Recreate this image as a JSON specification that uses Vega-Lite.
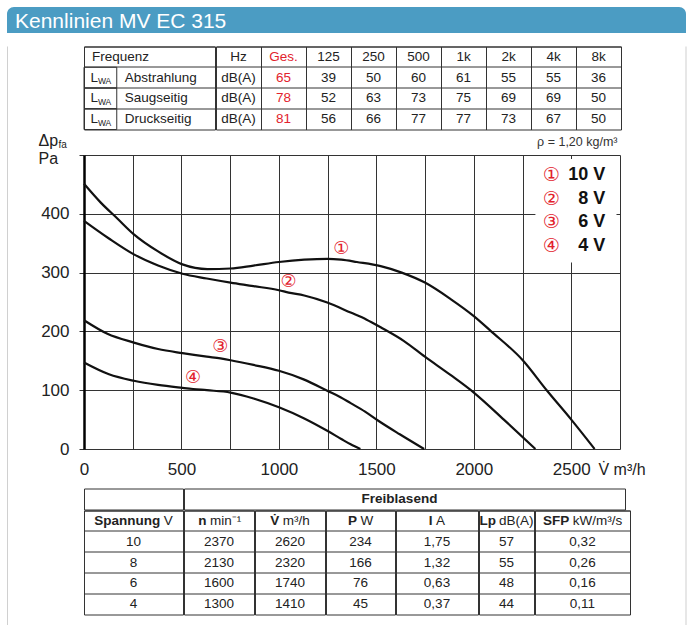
{
  "$schema": "https://vega.github.io/schema/vega-lite/v6.json",
  "background": "white",
  "padding": {"left": 7, "top": 7, "right": 0, "bottom": 0},
  "datasets": {
    "spektrum": [
      {"quelle": "Abstrahlung", "band": "Hz", "wert": "dB(A)"},
      {"quelle": "Abstrahlung", "band": "Ges.", "wert": "65"},
      {"quelle": "Abstrahlung", "band": "125", "wert": "39"},
      {"quelle": "Abstrahlung", "band": "250", "wert": "50"},
      {"quelle": "Abstrahlung", "band": "500", "wert": "60"},
      {"quelle": "Abstrahlung", "band": "1k", "wert": "61"},
      {"quelle": "Abstrahlung", "band": "2k", "wert": "55"},
      {"quelle": "Abstrahlung", "band": "4k", "wert": "55"},
      {"quelle": "Abstrahlung", "band": "8k", "wert": "36"},
      {"quelle": "Saugseitig", "band": "Hz", "wert": "dB(A)"},
      {"quelle": "Saugseitig", "band": "Ges.", "wert": "78"},
      {"quelle": "Saugseitig", "band": "125", "wert": "52"},
      {"quelle": "Saugseitig", "band": "250", "wert": "63"},
      {"quelle": "Saugseitig", "band": "500", "wert": "73"},
      {"quelle": "Saugseitig", "band": "1k", "wert": "75"},
      {"quelle": "Saugseitig", "band": "2k", "wert": "69"},
      {"quelle": "Saugseitig", "band": "4k", "wert": "69"},
      {"quelle": "Saugseitig", "band": "8k", "wert": "50"},
      {"quelle": "Druckseitig", "band": "Hz", "wert": "dB(A)"},
      {"quelle": "Druckseitig", "band": "Ges.", "wert": "81"},
      {"quelle": "Druckseitig", "band": "125", "wert": "56"},
      {"quelle": "Druckseitig", "band": "250", "wert": "66"},
      {"quelle": "Druckseitig", "band": "500", "wert": "77"},
      {"quelle": "Druckseitig", "band": "1k", "wert": "77"},
      {"quelle": "Druckseitig", "band": "2k", "wert": "73"},
      {"quelle": "Druckseitig", "band": "4k", "wert": "67"},
      {"quelle": "Druckseitig", "band": "8k", "wert": "50"}
    ],
    "kennlinien": [
      {"stufe": "10 V", "q": 0, "dp": 451},
      {"stufe": "10 V", "q": 86, "dp": 419},
      {"stufe": "10 V", "q": 171, "dp": 392},
      {"stufe": "10 V", "q": 256, "dp": 365},
      {"stufe": "10 V", "q": 380, "dp": 336},
      {"stufe": "10 V", "q": 505, "dp": 314},
      {"stufe": "10 V", "q": 633, "dp": 306},
      {"stufe": "10 V", "q": 752, "dp": 307},
      {"stufe": "10 V", "q": 870, "dp": 312},
      {"stufe": "10 V", "q": 1000, "dp": 318},
      {"stufe": "10 V", "q": 1130, "dp": 322},
      {"stufe": "10 V", "q": 1250, "dp": 323.5},
      {"stufe": "10 V", "q": 1320, "dp": 322, "marke": "①"},
      {"stufe": "10 V", "q": 1400, "dp": 318},
      {"stufe": "10 V", "q": 1522, "dp": 311},
      {"stufe": "10 V", "q": 1630, "dp": 300},
      {"stufe": "10 V", "q": 1749, "dp": 283},
      {"stufe": "10 V", "q": 1881, "dp": 255},
      {"stufe": "10 V", "q": 2000, "dp": 226},
      {"stufe": "10 V", "q": 2086, "dp": 201},
      {"stufe": "10 V", "q": 2251, "dp": 151},
      {"stufe": "10 V", "q": 2376, "dp": 99},
      {"stufe": "10 V", "q": 2500, "dp": 50},
      {"stufe": "10 V", "q": 2620, "dp": 0},
      {"stufe": "8 V", "q": 0, "dp": 388},
      {"stufe": "8 V", "q": 128, "dp": 358},
      {"stufe": "8 V", "q": 256, "dp": 331},
      {"stufe": "8 V", "q": 380, "dp": 312},
      {"stufe": "8 V", "q": 505, "dp": 298},
      {"stufe": "8 V", "q": 630, "dp": 290},
      {"stufe": "8 V", "q": 752, "dp": 283},
      {"stufe": "8 V", "q": 870, "dp": 277},
      {"stufe": "8 V", "q": 1000, "dp": 270},
      {"stufe": "8 V", "q": 1050, "dp": 266, "marke": "②"},
      {"stufe": "8 V", "q": 1130, "dp": 261},
      {"stufe": "8 V", "q": 1248, "dp": 249},
      {"stufe": "8 V", "q": 1368, "dp": 232},
      {"stufe": "8 V", "q": 1450, "dp": 220},
      {"stufe": "8 V", "q": 1522, "dp": 207},
      {"stufe": "8 V", "q": 1640, "dp": 184},
      {"stufe": "8 V", "q": 1749, "dp": 157},
      {"stufe": "8 V", "q": 1880, "dp": 126},
      {"stufe": "8 V", "q": 2000, "dp": 96},
      {"stufe": "8 V", "q": 2154, "dp": 50},
      {"stufe": "8 V", "q": 2316, "dp": 0},
      {"stufe": "6 V", "q": 0, "dp": 219},
      {"stufe": "6 V", "q": 120, "dp": 196},
      {"stufe": "6 V", "q": 256, "dp": 181},
      {"stufe": "6 V", "q": 380, "dp": 170},
      {"stufe": "6 V", "q": 505, "dp": 163},
      {"stufe": "6 V", "q": 630, "dp": 157},
      {"stufe": "6 V", "q": 700, "dp": 154, "marke": "③"},
      {"stufe": "6 V", "q": 752, "dp": 151},
      {"stufe": "6 V", "q": 870, "dp": 143},
      {"stufe": "6 V", "q": 1000, "dp": 133},
      {"stufe": "6 V", "q": 1130, "dp": 118},
      {"stufe": "6 V", "q": 1248, "dp": 99},
      {"stufe": "6 V", "q": 1316, "dp": 88},
      {"stufe": "6 V", "q": 1368, "dp": 78},
      {"stufe": "6 V", "q": 1440, "dp": 64},
      {"stufe": "6 V", "q": 1510, "dp": 48},
      {"stufe": "6 V", "q": 1620, "dp": 25},
      {"stufe": "6 V", "q": 1745, "dp": 0},
      {"stufe": "4 V", "q": 0, "dp": 147},
      {"stufe": "4 V", "q": 128, "dp": 127},
      {"stufe": "4 V", "q": 256, "dp": 116},
      {"stufe": "4 V", "q": 380, "dp": 109},
      {"stufe": "4 V", "q": 505, "dp": 104},
      {"stufe": "4 V", "q": 560, "dp": 102, "marke": "④"},
      {"stufe": "4 V", "q": 630, "dp": 100},
      {"stufe": "4 V", "q": 752, "dp": 96},
      {"stufe": "4 V", "q": 870, "dp": 86},
      {"stufe": "4 V", "q": 1000, "dp": 71},
      {"stufe": "4 V", "q": 1130, "dp": 52},
      {"stufe": "4 V", "q": 1248, "dp": 31},
      {"stufe": "4 V", "q": 1320, "dp": 17},
      {"stufe": "4 V", "q": 1368, "dp": 8},
      {"stufe": "4 V", "q": 1418, "dp": 0}
    ],
    "stufen": [
      {"nr": "①", "stufe": "10 V"},
      {"nr": "②", "stufe": "8 V"},
      {"nr": "③", "stufe": "6 V"},
      {"nr": "④", "stufe": "4 V"}
    ],
    "betrieb": [
      {"U": "10", "n": "2370", "V": "2620", "P": "234", "I": "1,75", "Lp": "57", "SFP": "0,32"},
      {"U": "8", "n": "2130", "V": "2320", "P": "166", "I": "1,32", "Lp": "55", "SFP": "0,26"},
      {"U": "6", "n": "1600", "V": "1740", "P": "76", "I": "0,63", "Lp": "48", "SFP": "0,16"},
      {"U": "4", "n": "1300", "V": "1410", "P": "45", "I": "0,37", "Lp": "44", "SFP": "0,11"}
    ]
  },
  "spacing": 12.5,
  "vconcat": [
    {
      "width": 679,
      "height": 26,
      "data": {"values": [{}]},
      "view": {"stroke": null},
      "layer": [
        {"mark": {"type": "rect", "color": "#4b9cc3", "cornerRadiusTopLeft": 7, "cornerRadiusTopRight": 7}, "encoding": {}},
        {"mark": {"type": "text", "align": "left", "baseline": "alphabetic", "dx": -331.5, "dy": 8.3, "color": "white", "font": "Liberation Sans", "fontSize": 21},
         "encoding": {"text": {"value": "Kennlinien MV EC 315"}}}
      ]
    },
    {
      "spacing": 39.5,
      "hconcat": [
        {
          "spacing": -1,
          "hconcat": [
            {"width": 1, "height": 580, "data": {"values": [{}]}, "view": {"stroke": null},
             "mark": {"type": "rect", "color": "#d0d0d0"}, "encoding": {}},
            {
              "spacing": -0.5,
              "vconcat": [
                {
                  "spacing": -1,
                  "hconcat": [
                    {
                      "width": 131,
                      "height": 83,
                      "data": {"name": "spektrum"},
                      "transform": [{"filter": "datum.band === 'Hz'"}],
                      "encoding": {
                        "y": {"field": "quelle", "type": "nominal", "scale": {"type": "band", "domain": ["Frequenz", "Abstrahlung", "Saugseitig", "Druckseitig"], "paddingInner": 0, "paddingOuter": 0}, "axis": {"labels": false, "ticks": false, "domain": false, "title": null, "grid": true, "gridColor": "#333", "gridOpacity": 1, "bandPosition": 0}}
                      },
                      "layer": [
                        {"mark": {"type": "rect", "filled": false, "color": "#333", "strokeWidth": 1},
                         "encoding": {"x": {"datum": "LWA", "type": "nominal", "scale": {"type": "band", "domain": ["LWA", "q1", "q2", "q3"], "paddingInner": 0, "paddingOuter": 0}, "axis": null}}},
                        {"mark": {"type": "text", "align": "left", "dx": -10, "fontSize": 13.5},
                         "encoding": {"x": {"datum": "LWA", "type": "nominal"}, "text": {"value": "L"}}},
                        {"mark": {"type": "text", "align": "left", "dx": -2.5, "dy": 3.5, "fontSize": 8.5},
                         "encoding": {"x": {"datum": "LWA", "type": "nominal"}, "text": {"value": "WA"}}},
                        {"mark": {"type": "text", "align": "left", "dx": 8},
                         "encoding": {"x": {"datum": "q1", "type": "nominal", "bandPosition": 0}, "text": {"field": "quelle"}}},
                        {"transform": [{"filter": "datum.quelle === 'Abstrahlung'"}],
                         "mark": {"type": "text", "align": "left", "dx": 8},
                         "encoding": {"x": {"datum": "LWA", "type": "nominal", "bandPosition": 0}, "y": {"datum": "Frequenz", "type": "nominal"}, "text": {"value": "Frequenz"}}}
                      ]
                    },
                    {
                      "width": 405,
                      "height": 83,
                      "data": {"name": "spektrum"},
                      "encoding": {
                        "x": {"field": "band", "type": "nominal", "scale": {"type": "band", "domain": ["Hz", "Ges.", "125", "250", "500", "1k", "2k", "4k", "8k"], "paddingInner": 0, "paddingOuter": 0}, "axis": {"labels": false, "ticks": false, "domain": false, "title": null, "grid": true, "gridColor": "#333", "gridOpacity": 1, "bandPosition": 0}},
                        "y": {"field": "quelle", "type": "nominal", "scale": {"type": "band", "domain": ["Frequenz", "Abstrahlung", "Saugseitig", "Druckseitig"], "paddingInner": 0, "paddingOuter": 0}, "axis": {"labels": false, "ticks": false, "domain": false, "title": null, "grid": true, "gridColor": "#333", "gridOpacity": 1, "bandPosition": 0}},
                        "color": {"condition": {"test": "datum.band === 'Ges.'", "value": "#e2222d"}, "value": "#222"}
                      },
                      "layer": [
                        {"mark": {"type": "text"}, "encoding": {"text": {"field": "wert"}}},
                        {"transform": [{"filter": "datum.quelle === 'Abstrahlung'"}],
                         "mark": {"type": "text"},
                         "encoding": {"y": {"datum": "Frequenz", "type": "nominal"}, "text": {"field": "band"}}}
                      ]
                    }
                  ]
                },
                {
                  "width": 536,
                  "height": 294,
                  "view": {"stroke": null},
                  "layer": [
                    {
                      "layer": [
                        {
                          "data": {"name": "kennlinien"},
                          "mark": {"type": "line", "color": "#111", "strokeWidth": 2.2, "interpolate": "monotone"},
                          "encoding": {
                            "x": {"field": "q", "type": "quantitative", "scale": {"domain": [0, 2750], "nice": false},
                                  "axis": {"values": [0, 250, 500, 750, 1000, 1250, 1500, 1750, 2000, 2250, 2500, 2750], "labelExpr": "datum.value % 500 === 0 ? datum.label : ''", "format": "d", "grid": true, "gridColor": "#333", "gridOpacity": 1, "ticks": false, "domain": false, "labelFontSize": 17, "labelFont": "Liberation Sans", "labelColor": "#222", "labelPadding": 12, "labelFlush": false, "labelOverlap": false, "title": "V̇ m³/h", "titleX": 514, "titleY": 25, "titleAlign": "left", "titleBaseline": "alphabetic", "titleFontSize": 16, "titleFont": "Liberation Sans", "titleFontWeight": "normal", "titleColor": "#222"}},
                            "y": {"field": "dp", "type": "quantitative", "scale": {"domain": [0, 500], "nice": false},
                                  "axis": {"values": [0, 50, 100, 150, 200, 250, 300, 350, 400, 450, 500], "labelExpr": "datum.value % 100 === 0 && datum.value < 500 ? datum.label : ''", "grid": true, "gridColor": "#333", "gridOpacity": 1, "ticks": true, "tickSize": 5, "tickColor": "#333", "domain": true, "domainColor": "#000", "domainWidth": 2.5, "labelFontSize": 17, "labelFont": "Liberation Sans", "labelColor": "#222", "labelPadding": 10, "labelOverlap": false, "title": ["Δp", "Pa"], "titleAngle": 0, "titleAlign": "left", "titleBaseline": "alphabetic", "titleX": -46, "titleY": -10, "titleFontSize": 16, "titleFont": "Liberation Sans", "titleFontWeight": "normal", "titleColor": "#222", "titleLineHeight": 18.5}},
                            "detail": {"field": "stufe"}
                          }
                        },
                        {
                          "data": {"values": [{}]},
                          "mark": {"type": "rect", "color": "white"},
                          "encoding": {"x": {"datum": 2316, "type": "quantitative"}, "x2": {"datum": 2732}, "y": {"datum": 317, "type": "quantitative"}, "y2": {"datum": 493}}
                        },
                        {
                          "data": {"name": "kennlinien"},
                          "transform": [{"filter": "datum.marke"}],
                          "mark": {"type": "text", "color": "#e2222d", "font": "DejaVu Sans", "fontSize": 18, "dy": -11},
                          "encoding": {"x": {"field": "q", "type": "quantitative"}, "y": {"field": "dp", "type": "quantitative"}, "text": {"field": "marke"}}
                        },
                        {
                          "data": {"values": [{}]},
                          "mark": {"type": "text", "align": "left", "baseline": "alphabetic", "dx": -25.5, "dy": -7, "fontSize": 10, "font": "Liberation Sans", "color": "#222"},
                          "encoding": {"x": {"datum": 0, "type": "quantitative"}, "y": {"datum": 500, "type": "quantitative"}, "text": {"value": "fa"}}
                        },
                        {
                          "data": {"values": [{}]},
                          "mark": {"type": "text", "align": "right", "baseline": "alphabetic", "dx": -2.5, "dy": -9, "fontSize": 12.5, "font": "Liberation Sans", "color": "#333"},
                          "encoding": {"x": {"datum": 2750, "type": "quantitative"}, "y": {"datum": 500, "type": "quantitative"}, "text": {"value": "ρ = 1,20 kg/m³"}}
                        }
                      ]
                    },
                    {
                      "data": {"name": "stufen"},
                      "encoding": {
                        "y": {"field": "stufe", "type": "nominal", "scale": {"type": "band", "domain": ["10 V", "8 V", "6 V", "4 V"], "range": [8, 103], "paddingInner": 0, "paddingOuter": 0},
                              "axis": {"orient": "left", "labels": false, "ticks": false, "domain": false, "grid": false, "title": " ", "titleX": -76.3, "titleY": -25, "titleAngle": 0, "titleAlign": "left", "titleBaseline": "top", "titleFontSize": 10}}
                      },
                      "layer": [
                        {"mark": {"type": "text", "color": "#e2222d", "font": "DejaVu Sans", "fontSize": 19},
                         "encoding": {"x": {"datum": 2397, "type": "quantitative", "scale": {"domain": [0, 2750], "nice": false},
                                            "axis": {"orient": "bottom", "labels": false, "ticks": false, "domain": false, "grid": false, "title": " ", "titleX": 0, "titleY": 39, "titleAlign": "left", "titleBaseline": "bottom", "titleFontSize": 10}},
                                      "text": {"field": "nr"}}},
                        {"mark": {"type": "text", "align": "right", "font": "Liberation Sans", "fontWeight": "bold", "fontSize": 18, "color": "#111"},
                         "encoding": {"x": {"datum": 2675, "type": "quantitative"}, "text": {"field": "stufe"}}}
                      ]
                    }
                  ],
                  "resolve": {"scale": {"y": "independent", "x": "independent"}}
                },
                {
                  "spacing": -1,
                  "vconcat": [
                    {
                      "spacing": -1,
                      "hconcat": [
                        {"width": 99, "height": 21, "data": {"values": [{"zeile": "Kopf"}]},
                         "mark": {"type": "text"},
                         "encoding": {"y": {"field": "zeile", "type": "nominal", "axis": null}, "text": {"value": ""}}},
                        {"width": 441, "height": 21, "data": {"values": [{"zeile": "Kopf"}]},
                         "mark": {"type": "text", "fontWeight": "bold", "dx": -5},
                         "encoding": {"y": {"field": "zeile", "type": "nominal", "axis": null}, "text": {"value": "Freiblasend"}}}
                      ]
                    },
                    {
                      "spacing": -1,
                      "hconcat": [
                        {
                          "width": 99, "height": 104, "data": {"name": "betrieb"},
                          "encoding": {"y": {"field": "U", "type": "nominal", "scale": {"type": "band", "domain": ["kopf", "10", "8", "6", "4"], "paddingInner": 0, "paddingOuter": 0}, "axis": {"labels": false, "ticks": false, "domain": false, "title": null, "grid": true, "gridColor": "#333", "gridOpacity": 1, "bandPosition": 0}}},
                          "layer": [
                            {"mark": {"type": "text"}, "encoding": {"text": {"field": "U"}}},
                            {"transform": [{"filter": "datum.U === '10'"}], "mark": {"type": "text", "fontWeight": "bold", "align": "right", "dx": 26.7}, "encoding": {"y": {"datum": "kopf", "type": "nominal"}, "text": {"value": "Spannung"}}},
                            {"transform": [{"filter": "datum.U === '10'"}], "mark": {"type": "text", "align": "left", "dx": 30.2}, "encoding": {"y": {"datum": "kopf", "type": "nominal"}, "text": {"value": "V"}}}
                          ]
                        },
                        {
                          "width": 70, "height": 104, "data": {"name": "betrieb"},
                          "encoding": {"y": {"field": "U", "type": "nominal", "scale": {"type": "band", "domain": ["kopf", "10", "8", "6", "4"], "paddingInner": 0, "paddingOuter": 0}, "axis": {"labels": false, "ticks": false, "domain": false, "title": null, "grid": true, "gridColor": "#333", "gridOpacity": 1, "bandPosition": 0}}},
                          "layer": [
                            {"mark": {"type": "text"}, "encoding": {"text": {"field": "n"}}},
                            {"transform": [{"filter": "datum.U === '10'"}], "mark": {"type": "text", "fontWeight": "bold", "align": "right", "dx": -12.6}, "encoding": {"y": {"datum": "kopf", "type": "nominal"}, "text": {"value": "n"}}},
                            {"transform": [{"filter": "datum.U === '10'"}], "mark": {"type": "text", "align": "left", "dx": -9.1}, "encoding": {"y": {"datum": "kopf", "type": "nominal"}, "text": {"value": "min⁻¹"}}}
                          ]
                        },
                        {
                          "width": 70, "height": 104, "data": {"name": "betrieb"},
                          "encoding": {"y": {"field": "U", "type": "nominal", "scale": {"type": "band", "domain": ["kopf", "10", "8", "6", "4"], "paddingInner": 0, "paddingOuter": 0}, "axis": {"labels": false, "ticks": false, "domain": false, "title": null, "grid": true, "gridColor": "#333", "gridOpacity": 1, "bandPosition": 0}}},
                          "layer": [
                            {"mark": {"type": "text"}, "encoding": {"text": {"field": "V"}}},
                            {"transform": [{"filter": "datum.U === '10'"}], "mark": {"type": "text", "fontWeight": "bold", "align": "right", "dx": -10.7}, "encoding": {"y": {"datum": "kopf", "type": "nominal"}, "text": {"value": "V̇"}}},
                            {"transform": [{"filter": "datum.U === '10'"}], "mark": {"type": "text", "align": "left", "dx": -7.2}, "encoding": {"y": {"datum": "kopf", "type": "nominal"}, "text": {"value": "m³/h"}}}
                          ]
                        },
                        {
                          "width": 69, "height": 104, "data": {"name": "betrieb"},
                          "encoding": {"y": {"field": "U", "type": "nominal", "scale": {"type": "band", "domain": ["kopf", "10", "8", "6", "4"], "paddingInner": 0, "paddingOuter": 0}, "axis": {"labels": false, "ticks": false, "domain": false, "title": null, "grid": true, "gridColor": "#333", "gridOpacity": 1, "bandPosition": 0}}},
                          "layer": [
                            {"mark": {"type": "text"}, "encoding": {"text": {"field": "P"}}},
                            {"transform": [{"filter": "datum.U === '10'"}], "mark": {"type": "text", "fontWeight": "bold", "align": "right", "dx": -3.6}, "encoding": {"y": {"datum": "kopf", "type": "nominal"}, "text": {"value": "P"}}},
                            {"transform": [{"filter": "datum.U === '10'"}], "mark": {"type": "text", "align": "left", "dx": -0.1}, "encoding": {"y": {"datum": "kopf", "type": "nominal"}, "text": {"value": "W"}}}
                          ]
                        },
                        {
                          "width": 82, "height": 104, "data": {"name": "betrieb"},
                          "encoding": {"y": {"field": "U", "type": "nominal", "scale": {"type": "band", "domain": ["kopf", "10", "8", "6", "4"], "paddingInner": 0, "paddingOuter": 0}, "axis": {"labels": false, "ticks": false, "domain": false, "title": null, "grid": true, "gridColor": "#333", "gridOpacity": 1, "bandPosition": 0}}},
                          "layer": [
                            {"mark": {"type": "text"}, "encoding": {"text": {"field": "I"}}},
                            {"transform": [{"filter": "datum.U === '10'"}], "mark": {"type": "text", "fontWeight": "bold", "align": "right", "dx": -4.4}, "encoding": {"y": {"datum": "kopf", "type": "nominal"}, "text": {"value": "I"}}},
                            {"transform": [{"filter": "datum.U === '10'"}], "mark": {"type": "text", "align": "left", "dx": -0.9}, "encoding": {"y": {"datum": "kopf", "type": "nominal"}, "text": {"value": "A"}}}
                          ]
                        },
                        {
                          "width": 55, "height": 104, "data": {"name": "betrieb"},
                          "encoding": {"y": {"field": "U", "type": "nominal", "scale": {"type": "band", "domain": ["kopf", "10", "8", "6", "4"], "paddingInner": 0, "paddingOuter": 0}, "axis": {"labels": false, "ticks": false, "domain": false, "title": null, "grid": true, "gridColor": "#333", "gridOpacity": 1, "bandPosition": 0}}},
                          "layer": [
                            {"mark": {"type": "text"}, "encoding": {"text": {"field": "Lp"}}},
                            {"transform": [{"filter": "datum.U === '10'"}], "mark": {"type": "text", "fontWeight": "bold", "align": "right", "dx": -10.5}, "encoding": {"y": {"datum": "kopf", "type": "nominal"}, "text": {"value": "Lp"}}},
                            {"transform": [{"filter": "datum.U === '10'"}], "mark": {"type": "text", "align": "left", "dx": -7.5}, "encoding": {"y": {"datum": "kopf", "type": "nominal"}, "text": {"value": "dB(A)"}}}
                          ]
                        },
                        {
                          "width": 95, "height": 104, "data": {"name": "betrieb"},
                          "encoding": {"y": {"field": "U", "type": "nominal", "scale": {"type": "band", "domain": ["kopf", "10", "8", "6", "4"], "paddingInner": 0, "paddingOuter": 0}, "axis": {"labels": false, "ticks": false, "domain": false, "title": null, "grid": true, "gridColor": "#333", "gridOpacity": 1, "bandPosition": 0}}},
                          "layer": [
                            {"mark": {"type": "text"}, "encoding": {"text": {"field": "SFP"}}},
                            {"transform": [{"filter": "datum.U === '10'"}], "mark": {"type": "text", "fontWeight": "bold", "align": "right", "dx": -13.3}, "encoding": {"y": {"datum": "kopf", "type": "nominal"}, "text": {"value": "SFP"}}},
                            {"transform": [{"filter": "datum.U === '10'"}], "mark": {"type": "text", "align": "left", "dx": -9.8}, "encoding": {"y": {"datum": "kopf", "type": "nominal"}, "text": {"value": "kW/m³/s"}}}
                          ]
                        }
                      ]
                    }
                  ]
                }
              ]
            }
          ]
        },
        {"width": 1, "height": 580, "data": {"values": [{}]}, "view": {"stroke": null},
         "mark": {"type": "rect", "color": "#d0d0d0"}, "encoding": {}}
      ]
    }
  ],
  "config": {
    "view": {"stroke": "#333", "strokeWidth": 1},
    "text": {"font": "Liberation Sans", "fontSize": 13.5, "color": "#222"}
  }
}
